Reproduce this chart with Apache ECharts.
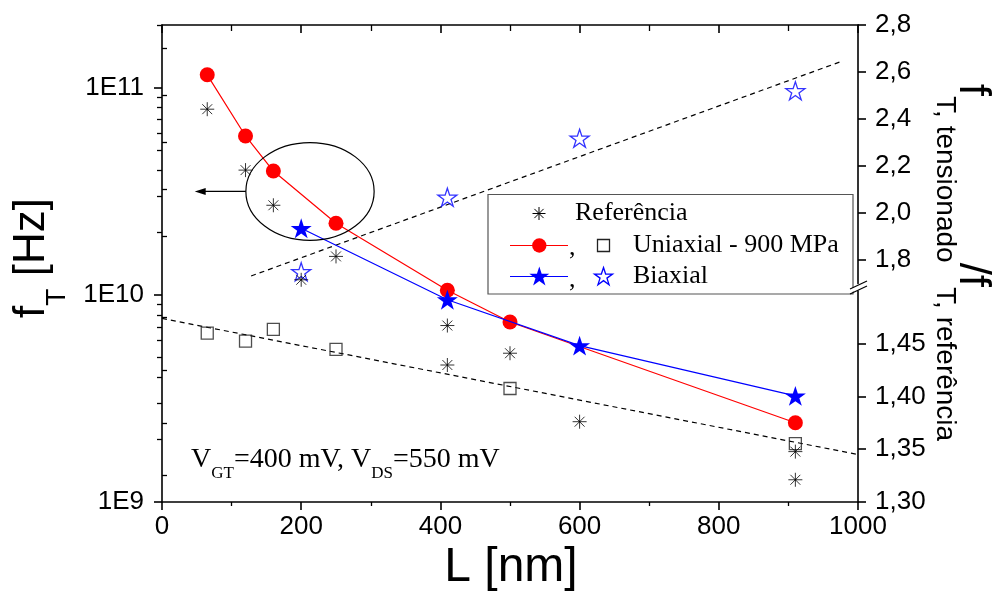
<!DOCTYPE html>
<html><head><meta charset="utf-8">
<script src="https://cdn.jsdelivr.net/npm/echarts@6/dist/echarts.min.js"></script>
<style>html,body{margin:0;padding:0;background:#fff}#c{width:995px;height:594px}</style>
</head><body><div id="c"></div>
<script>
// ---------------- data ----------------
const refL  = [65, 120, 160, 200, 250, 410, 410, 500, 600, 910, 910];
const refFt = [7.85e10, 3.99e10, 2.70e10, 1.18e10, 1.53e10, 7.1e9, 4.58e9, 5.22e9, 2.44e9, 1.75e9, 1.28e9];
const uniL  = [65, 120, 160, 250, 410, 500, 910];
const uniFt = [1.15e11, 5.83e10, 3.95e10, 2.21e10, 1.05e10, 7.38e9, 2.41e9];
const biL   = [200, 410, 600, 910];
const biFt  = [2.09e10, 9.46e9, 5.68e9, 3.25e9];
const uniRatioL = [65, 120, 160, 250, 500, 910];
const uniRatio  = [1.460, 1.4525, 1.4636, 1.4446, 1.4076, 1.3554];
const biRatioL  = [200, 410, 600, 910];
const biRatio   = [1.750, 2.067, 2.318, 2.520];
const uniFitL = [0, 1000];
const uniFit  = [1.474, 1.345];
const biFitL  = [128, 978];
const biFit   = [1.732, 2.647];
const ftLabelVals   = [1e9, 1e10, 1e11];
const upperLabelVals = [1.8, 2.0, 2.2, 2.4, 2.6, 2.8];
const upperMinorVals = [1.9, 2.1, 2.3, 2.5, 2.7];
const lowerLabelVals = [1.30, 1.35, 1.40, 1.45];
const lowerMinorVals = [1.325, 1.375, 1.425, 1.475];
const ftMinorVals = [];
[1e9, 1e10].forEach(d => { for (let k = 2; k <= 9; k++) ftMinorVals.push(k * d); });
ftMinorVals.push(1.9999e11);
// annotation (data space)
const noteEllL = [120.5, 304.8];
const noteEllFt = [1.83e10, 5.42e10];
const noteArrowTipL = 47;

const zip = (a, b) => a.map((v, i) => [v, b[i]]);
const STAR_D = 'M50,0L61.23,34.55L97.55,34.55L68.17,55.9L79.39,90.45L50,69.1L20.61,90.45L31.83,55.9L2.45,34.55L38.77,34.55Z';
const AST_D = 'M10,0L10,20M0,10L20,10M2.93,2.93L17.07,17.07M2.93,17.07L17.07,2.93';

const W = 995, H = 594;
const GL = 162, GR = 858, GT = 25, GB = 502, UPB = 283.5, LOWT = 291;
const AX = '#000';
const SANS = 'Liberation Sans', SERIF = 'Liberation Serif';
const lineS = {color: AX, width: 1.6};

function xAx(grid, pos, show, inside) {
  return {
    type: 'value', gridIndex: grid, min: 0, max: 1000, interval: 200, position: pos, show: show,
    axisLine: {show: true, onZero: false, lineStyle: lineS},
    axisTick: {show: true, inside: inside, length: 8, lineStyle: lineS},
    minorTick: {show: true, splitNumber: 2, length: inside ? 6 : 4, lineStyle: {color: AX, width: 1.3}},
    axisLabel: {show: pos === 'bottom' && grid === 0, fontSize: 26, fontFamily: SANS, color: '#000', margin: 12,
      formatter: v => String(v)},
    splitLine: {show: false}, minorSplitLine: {show: false}
  };
}

const chart = echarts.init(document.getElementById('c'), null, {renderer: 'canvas', width: W, height: H});
chart.setOption({
  animation: false,
  backgroundColor: '#fff',
  grid: [
    {left: GL, right: W - GR, top: GT, bottom: H - GB, outerBoundsMode: 'none'},
    {left: GL, right: W - GR, top: GT, height: UPB - GT, outerBoundsMode: 'none'},
    {left: GL, right: W - GR, top: LOWT, bottom: H - GB, outerBoundsMode: 'none'}
  ],
  xAxis: [
    xAx(0, 'bottom', true, false),
    xAx(0, 'top', true, true),
    {type: 'value', gridIndex: 1, min: 0, max: 1000, show: false},
    {type: 'value', gridIndex: 2, min: 0, max: 1000, show: false}
  ],
  yAxis: [
    {type: 'log', logBase: 10, gridIndex: 0, min: 1e9, max: 2e11, position: 'left',
     axisLine: {show: true, onZero: false, lineStyle: lineS},
     axisTick: {show: true, length: 8, customValues: ftLabelVals, lineStyle: lineS},
     axisLabel: {show: true, customValues: ftLabelVals, fontSize: 26, fontFamily: SANS, color: '#000', margin: 18,
       formatter: v => '1E' + Math.round(Math.log10(v))},
     splitLine: {show: false}},
    {type: 'log', logBase: 10, gridIndex: 0, min: 1e9, max: 2e11, position: 'left',
     axisLine: {show: false},
     axisTick: {show: true, length: 5, customValues: ftMinorVals, lineStyle: {color: AX, width: 1.3}},
     axisLabel: {show: false}, splitLine: {show: false}},
    {type: 'value', gridIndex: 1, min: 1.7, max: 2.8, position: 'right',
     axisLine: {show: true, onZero: false, lineStyle: lineS},
     axisTick: {show: true, length: 8, customValues: upperLabelVals, lineStyle: lineS},
     axisLabel: {show: true, customValues: upperLabelVals, fontSize: 26, fontFamily: SANS, color: '#000', margin: 17,
       formatter: v => v.toFixed(1).replace('.', ',')},
     splitLine: {show: false}},
    {type: 'value', gridIndex: 1, min: 1.7, max: 2.8, position: 'right',
     axisLine: {show: false},
     axisTick: {show: true, length: 5, customValues: upperMinorVals, lineStyle: {color: AX, width: 1.3}},
     axisLabel: {show: false}, splitLine: {show: false}},
    {type: 'value', gridIndex: 2, min: 1.3, max: 1.5, position: 'right',
     axisLine: {show: true, onZero: false, lineStyle: lineS},
     axisTick: {show: true, length: 8, customValues: lowerLabelVals, lineStyle: lineS},
     axisLabel: {show: true, customValues: lowerLabelVals, fontSize: 26, fontFamily: SANS, color: '#000', margin: 17,
       formatter: v => v.toFixed(2).replace('.', ',')},
     splitLine: {show: false}},
    {type: 'value', gridIndex: 2, min: 1.3, max: 1.5, position: 'right',
     axisLine: {show: false},
     axisTick: {show: true, length: 5, customValues: lowerMinorVals, lineStyle: {color: AX, width: 1.3}},
     axisLabel: {show: false}, splitLine: {show: false}}
  ],
  series: [
    {name: 'Ajuste uniaxial', type: 'line', xAxisIndex: 3, yAxisIndex: 4, data: zip(uniFitL, uniFit),
     symbol: 'none', lineStyle: {color: '#000', width: 1.2, type: [5, 4]}, z: 2, silent: true},
    {name: 'Ajuste biaxial', type: 'line', xAxisIndex: 2, yAxisIndex: 2, data: zip(biFitL, biFit),
     symbol: 'none', lineStyle: {color: '#000', width: 1.2, type: [5, 4]}, z: 2, silent: true},
    {name: 'Uniaxial - 900 MPa (razão)', type: 'scatter', xAxisIndex: 3, yAxisIndex: 4, data: zip(uniRatioL, uniRatio),
     symbol: 'rect', symbolSize: 12, itemStyle: {color: 'rgba(0,0,0,0)', borderColor: '#222', borderWidth: 1.3}, z: 3},
    {name: 'Biaxial (razão)', type: 'scatter', xAxisIndex: 2, yAxisIndex: 2, data: zip(biRatioL, biRatio),
     symbol: 'path://' + STAR_D, symbolKeepAspect: true, symbolSize: 19,
     itemStyle: {color: 'rgba(0,0,0,0)', borderColor: '#0000ff', borderWidth: 1.3}, z: 3},
    {name: 'Referência', type: 'scatter', xAxisIndex: 0, yAxisIndex: 0, data: zip(refL, refFt),
     symbol: 'path://' + AST_D, symbolSize: 14,
     itemStyle: {color: 'rgba(0,0,0,0)', borderColor: '#000', borderWidth: 1}, z: 4},
    {name: 'Uniaxial - 900 MPa', type: 'line', xAxisIndex: 0, yAxisIndex: 0, data: zip(uniL, uniFt),
     symbol: 'circle', symbolSize: 15, itemStyle: {color: '#ff0000'}, lineStyle: {color: '#ff0000', width: 1.2}, z: 5},
    {name: 'Biaxial', type: 'line', xAxisIndex: 0, yAxisIndex: 0, data: zip(biL, biFt),
     symbol: 'path://' + STAR_D, symbolKeepAspect: true, symbolSize: 21,
     itemStyle: {color: '#0000ff'}, lineStyle: {color: '#0000ff', width: 1.2}, z: 6}
  ]
});

// ---------- annotations & legend ----------
const toPx = v => chart.convertToPixel({xAxisIndex: 0, yAxisIndex: 0}, v);
const eA = toPx([noteEllL[0], noteEllFt[1]]);
const eB = toPx([noteEllL[1], noteEllFt[0]]);
const ecx = (eA[0] + eB[0]) / 2, ecy = (eA[1] + eB[1]) / 2;
const erx = (eB[0] - eA[0]) / 2, ery = (eB[1] - eA[1]) / 2;
const tip = toPx([noteArrowTipL, noteEllFt[0]])[0];

const serifText = (txt, x, y, size) => ({type: 'text', z: 20, style: {text: txt, x: x, y: y, fontSize: size, fontFamily: SERIF, fill: '#000', verticalAlign: 'middle', align: 'left'}});
function starEl(cx, cy, R, style) {
  const pts = [];
  for (let k = 0; k < 10; k++) {
    const a = -Math.PI / 2 + k * Math.PI / 5;
    const r = k % 2 === 0 ? R : R * 0.382;
    pts.push([cx + r * Math.cos(a), cy + r * Math.sin(a)]);
  }
  return {type: 'polygon', z: 21, shape: {points: pts}, style: style};
}
function asteriskEl(cx, cy, R) {
  const d = R * 0.707;
  const segs = [[0, -R, 0, R], [-R, 0, R, 0], [-d, -d, d, d], [-d, d, d, -d]];
  return {type: 'group', z: 21, children: segs.map(s => ({type: 'line', z: 21,
    shape: {x1: cx + s[0], y1: cy + s[1], x2: cx + s[2], y2: cy + s[3]}, style: {stroke: '#000', lineWidth: 1}}))};
}

const r1 = 213.5, r2 = 245.5, r3 = 276.5;
chart.setOption({
  graphic: [
    // ellipse + arrow
    {type: 'ellipse', z: 10, shape: {cx: ecx, cy: ecy, rx: erx, ry: ery}, style: {fill: null, stroke: '#000', lineWidth: 1.2}},
    {type: 'line', z: 10, shape: {x1: eA[0], y1: ecy, x2: tip + 8, y2: ecy}, style: {stroke: '#000', lineWidth: 1.2}},
    {type: 'polygon', z: 10, shape: {points: [[tip, ecy], [tip + 11, ecy - 3.5], [tip + 11, ecy + 3.5]]}, style: {fill: '#000'}},
    // axis break marks
    {type: 'polygon', z: 30, shape: {points: [[850, 293], [867, 285], [867, 281], [850, 289]]}, style: {fill: '#fff'}},
    {type: 'line', z: 31, shape: {x1: 850, y1: 294, x2: 867, y2: 286}, style: {stroke: '#000', lineWidth: 1.3}},
    {type: 'line', z: 31, shape: {x1: 850, y1: 289, x2: 867, y2: 281}, style: {stroke: '#000', lineWidth: 1.3}},
    // legend box
    {type: 'rect', z: 15, shape: {x: 488, y: 194.5, width: 365, height: 99.5}, style: {fill: '#fff', stroke: '#555', lineWidth: 1.2}},
    asteriskEl(539, r1, 6.5),
    serifText('Referência', 575, r1, 26),
    {type: 'line', z: 20, shape: {x1: 510, y1: r2, x2: 568, y2: r2}, style: {stroke: '#ff0000', lineWidth: 1.2}},
    {type: 'circle', z: 21, shape: {cx: 539.3, cy: r2, r: 7.2}, style: {fill: '#ff0000'}},
    serifText(',', 569, r2 + 3, 26),
    {type: 'rect', z: 20, shape: {x: 597.5, y: r2 - 6, width: 12, height: 12}, style: {fill: null, stroke: '#222', lineWidth: 1.3}},
    serifText('Uniaxial - 900 MPa', 633, r2, 26),
    {type: 'line', z: 20, shape: {x1: 510, y1: r3, x2: 568, y2: r3}, style: {stroke: '#0000ff', lineWidth: 1.2}},
    starEl(539.3, r3 + 0.5, 10.5, {fill: '#0000ff'}),
    serifText(',', 569, r3 + 4, 26),
    starEl(603.5, r3 + 0.5, 9.5, {fill: null, stroke: '#0000ff', lineWidth: 1.3}),
    serifText('Biaxial', 633, r3, 26),
    // condition text
    {type: 'text', z: 20, style: {
      x: 191, y: 445.5, align: 'left', verticalAlign: 'top', fill: '#000',
      text: '{m|V}{s|GT}{m|=400 mV, V}{s|DS}{m|=550 mV}',
      rich: {
        m: {fontSize: 28, fontFamily: SERIF, verticalAlign: 'top', fill: '#000'},
        s: {fontSize: 17, fontFamily: SERIF, verticalAlign: 'top', padding: [20, 0, 0, 0], fill: '#000'}
      }}},
    // left axis title
    {type: 'text', z: 20, x: 9.8, y: 258, rotation: Math.PI / 2, style: {
      x: 0, y: 0, align: 'center', verticalAlign: 'top', fill: '#000',
      text: '{m|f}{s|T}{m| [Hz]}',
      rich: {
        m: {fontSize: 44, fontFamily: SANS, verticalAlign: 'top', fill: '#000'},
        s: {fontSize: 28, fontFamily: SANS, verticalAlign: 'top', padding: [33, 0, 0, 0], fill: '#000'}
      }}},
    // right axis title
    {type: 'text', z: 20, x: 994, y: 262.5, rotation: -Math.PI / 2, style: {
      x: 0, y: 0, align: 'center', verticalAlign: 'top', fill: '#000',
      text: '{m|f}{s|T, tensionado}{m|/f}{s|T, referência}',
      rich: {
        m: {fontSize: 44, fontFamily: SANS, verticalAlign: 'top', fill: '#000'},
        s: {fontSize: 28, fontFamily: SANS, verticalAlign: 'top', padding: [35, 0, 0, 0], fill: '#000'}
      }}},
    // x axis title
    {type: 'text', z: 20, style: {x: 511, y: 568, align: 'center', verticalAlign: 'middle', text: 'L [nm]', fontSize: 48, fontFamily: SANS, fill: '#000'}}
  ]
});
</script>
</body></html>
